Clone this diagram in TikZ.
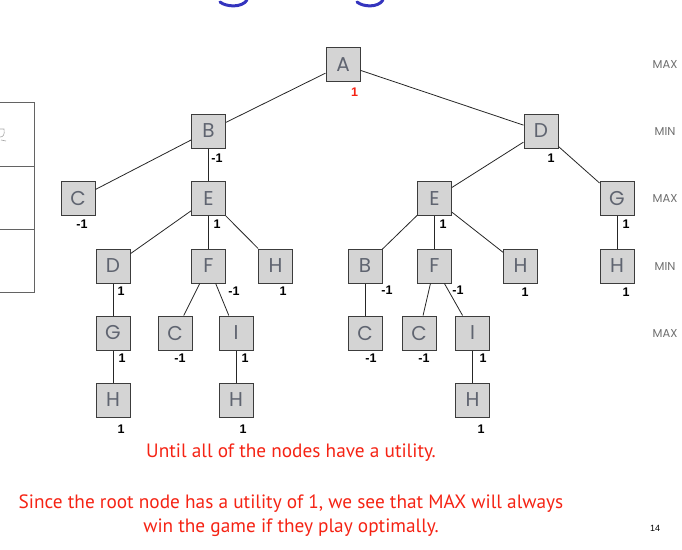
\documentclass[tikz,border=0pt]{standalone}
\usepackage{fontspec}
\newfontfamily\geo{Poppins}
\newfontfamily\lab{Liberation Sans}
\newfontfamily\body{PT Sans}
\definecolor{boxfill}{RGB}{212,212,212}
\definecolor{boxline}{RGB}{60,60,60}
\definecolor{lettergray}{RGB}{95,100,112}
\definecolor{levelgray}{RGB}{110,110,110}
\definecolor{redtext}{RGB}{245,35,20}
\definecolor{titleblue}{RGB}{52,52,190}
\tikzset{
  gbox/.style={draw=boxline, fill=boxfill, line width=1pt, minimum size=34pt, inner sep=0pt,
    text=lettergray, font=\geo\fontsize{20}{20}\selectfont},
  util/.style={inner sep=0pt, font=\lab\bfseries\fontsize{12.5}{12.5}\selectfont, text=black},
  level/.style={inner sep=0pt, font=\geo\fontsize{11.5}{12}\selectfont, text=levelgray},
  redline/.style={inner sep=0pt, font=\body\fontsize{19.3}{21}\selectfont, text=redtext},
  edge/.style={draw=black!85, line width=0.8pt},
  frame/.style={draw=boxline!80, line width=1pt}
}
\begin{document}
\begin{tikzpicture}[x=1pt,y=-1pt]
\useasboundingbox (0,0) rectangle (682,549);
% title fragments
\draw[titleblue, line width=3pt, line cap=round] (220,2) .. controls (226,7) and (242,8) .. (247,0);
\draw[titleblue, line width=3pt, line cap=round] (357,2) .. controls (363,7) and (378,8) .. (383,0);
% left table fragment
\draw[frame] (0,102) -- (34,102) -- (34,292) -- (0,292);
\draw[frame] (0,166) -- (34,166);
\draw[frame] (0,229) -- (34,229);
\draw[gray!70, line width=0.6pt] (0,129) -- (4,129) .. controls (5,135) and (3,137) .. (0,137);
\draw[gray!70, line width=0.6pt] (1,140) -- (6,141);
% nodes
\node[gbox] (A) at (343,64.5) {A};
\node[gbox] (B) at (208.5,131) {B};
\node[gbox] (D) at (541,131) {D};
\node[gbox] (C1) at (78,198.5) {C};
\node[gbox] (E1) at (208.5,198.5) {E};
\node[gbox] (E2) at (434.5,198.5) {E};
\node[gbox] (G1) at (617,198.5) {G};
\node[gbox] (D2) at (113,266) {D};
\node[gbox] (F1) at (208.5,266) {F};
\node[gbox] (H1) at (275.5,266) {H};
\node[gbox] (B2) at (365,266) {B};
\node[gbox] (F2) at (434.5,266) {F};
\node[gbox] (H2) at (520.5,266) {H};
\node[gbox] (H3) at (617,266) {H};
\node[gbox] (G2) at (113,333) {G};
\node[gbox] (C2) at (175,333) {C};
\node[gbox] (I1) at (236,333) {I};
\node[gbox] (C3) at (365,333) {C};
\node[gbox] (C4) at (419,333) {C};
\node[gbox] (I2) at (472.5,333) {I};
\node[gbox] (H4) at (113,400) {H};
\node[gbox] (H5) at (236,400) {H};
\node[gbox] (H6) at (472.5,400) {H};
% edges
\foreach \p/\c in {A/B, A/D, B/C1, B/E1, D/E2, D/G1, E1/D2, E1/F1, E1/H1, E2/B2, E2/F2, E2/H2, G1/H3,
  D2/G2, G2/H4, F1/C2, F1/I1, I1/H5, B2/C3, F2/C4, F2/I2, I2/H6}
  \draw[edge] (\p) -- (\c);
% utilities
\node[util, text=redtext] (uA) at (354.5,92) {1};
\node[util] (uB) at (217,158) {-1};
\node[util] (uD) at (551,158) {1};
\node[util] (uC1) at (82,224) {-1};
\node[util] (uE1) at (217,224) {1};
\node[util] (uE2) at (443,224) {1};
\node[util] (uG1) at (626,224) {1};
\node[util] (uD2) at (121,291.5) {1};
\node[util] (uF1) at (234,291) {-1};
\node[util] (uH1) at (283,291.5) {1};
\node[util] (uB2) at (387,290) {-1};
\node[util] (uF2) at (458,290) {-1};
\node[util] (uH2) at (525,292) {1};
\node[util] (uH3) at (626,292) {1};
\node[util] (uG2) at (122,358) {1};
\node[util] (uC2) at (180,358) {-1};
\node[util] (uI1) at (245,358) {1};
\node[util] (uC3) at (371,358) {-1};
\node[util] (uC4) at (424,358) {-1};
\node[util] (uI2) at (483,358) {1};
\node[util] (uH4) at (121,429) {1};
\node[util] (uH5) at (243,429) {1};
\node[util] (uH6) at (481,429) {1};
% level labels
\node[level] (L1) at (665,64) {MAX};
\node[level] (L2) at (665,131) {MIN};
\node[level] (L3) at (665,198) {MAX};
\node[level] (L4) at (665,266) {MIN};
\node[level] (L5) at (665,333) {MAX};
% texts
\node[redline] (t1) at (291,453) {Until all of the nodes have a utility.};
\node[redline] (t2) at (291,504) {Since the root node has a utility of 1, we see that MAX will always};
\node[redline] (t3) at (291,528) {win the game if they play optimally.};
\node[inner sep=0pt, font=\lab\fontsize{9}{9}\selectfont] (pg) at (655,528) {14};
\end{tikzpicture}
\end{document}
